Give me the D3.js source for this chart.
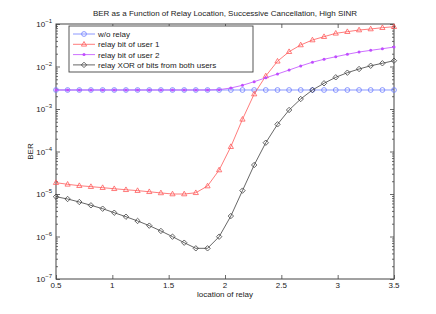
<!DOCTYPE html>
<html>
<head>
<meta charset="utf-8">
<script src="https://cdn.jsdelivr.net/npm/d3@7"></script>
<style>
  body { margin: 0; background: #fff; }
  text { font-family: "Liberation Sans", Arial, sans-serif; }
</style>
</head>
<body>
<div id="chart"></div>
<script>
// relay location, 30 evenly spaced samples between 0.5 and 3.5
var locations = [0.5, 0.603, 0.707, 0.810, 0.914, 1.017, 1.121, 1.224, 1.328, 1.431,
                 1.534, 1.638, 1.741, 1.845, 1.948, 2.052, 2.155, 2.259, 2.362, 2.466,
                 2.569, 2.672, 2.776, 2.879, 2.983, 3.086, 3.190, 3.293, 3.397, 3.5];

var berNoRelay = [2.8e-3, 2.8e-3, 2.8e-3, 2.8e-3, 2.8e-3, 2.8e-3, 2.8e-3, 2.8e-3, 2.8e-3, 2.8e-3,
                  2.8e-3, 2.8e-3, 2.8e-3, 2.8e-3, 2.8e-3, 2.8e-3, 2.8e-3, 2.8e-3, 2.8e-3, 2.8e-3,
                  2.8e-3, 2.8e-3, 2.8e-3, 2.8e-3, 2.8e-3, 2.8e-3, 2.8e-3, 2.8e-3, 2.8e-3, 2.8e-3];

var berUser1 = [1.85e-5, 1.69e-5, 1.57e-5, 1.49e-5, 1.41e-5, 1.33e-5, 1.26e-5, 1.20e-5, 1.13e-5, 1.06e-5,
                1.0e-5, 1.0e-5, 1.07e-5, 1.54e-5, 3.67e-5, 1.30e-4, 5.72e-4, 2.25e-3, 5.98e-3, 1.33e-2,
                2.23e-2, 3.21e-2, 4.20e-2, 5.03e-2, 6.04e-2, 6.59e-2, 7.22e-2, 7.63e-2, 8.19e-2, 8.64e-2];

var berUser2 = [2.8e-3, 2.8e-3, 2.8e-3, 2.8e-3, 2.8e-3, 2.8e-3, 2.8e-3, 2.8e-3, 2.8e-3, 2.8e-3,
                2.8e-3, 2.8e-3, 2.8e-3, 2.8e-3, 2.85e-3, 3.12e-3, 3.61e-3, 4.39e-3, 5.42e-3, 6.66e-3,
                8.27e-3, 1.03e-2, 1.26e-2, 1.48e-2, 1.70e-2, 1.94e-2, 2.19e-2, 2.40e-2, 2.62e-2, 2.87e-2];

var berXor = [8.63e-6, 7.63e-6, 6.48e-6, 5.42e-6, 4.51e-6, 3.63e-6, 2.92e-6, 2.32e-6, 1.80e-6, 1.35e-6,
              9.9e-7, 7.15e-7, 5.27e-7, 5.27e-7, 9.9e-7, 3.03e-6, 1.20e-5, 4.81e-5, 1.61e-4, 4.36e-4,
              9.47e-4, 1.72e-3, 2.80e-3, 4.03e-3, 5.57e-3, 7.15e-3, 8.73e-3, 1.04e-2, 1.19e-2, 1.37e-2];

var seriesNames = ["w/o relay", "relay bit of user 1", "relay bit of user 2", "relay XOR of bits from both users"];
var xTicks = [0.5, 1, 1.5, 2, 2.5, 3, 3.5];
var yExponents = [-7, -6, -5, -4, -3, -2, -1];

var series = [
  {name: seriesNames[0], values: berNoRelay, color: "#6f7fff", marker: "circle"},
  {name: seriesNames[1], values: berUser1, color: "#ff5a5a", marker: "triangle"},
  {name: seriesNames[2], values: berUser2, color: "#c04dff", marker: "star"},
  {name: seriesNames[3], values: berXor, color: "#404040", marker: "diamond"}
];

// set the dimensions and margins of the graph
var margin = {top: 24, right: 42, bottom: 35, left: 56},
    width = 436 - margin.left - margin.right,
    height = 314 - margin.top - margin.bottom;

var x = d3.scaleLinear().domain([0.5, 3.5]).range([0, width]);
var y = d3.scaleLog().domain([1e-7, 1e-1]).range([height, 0]);

var svg = d3.select("#chart").append("svg")
    .attr("width", 436)
    .attr("height", 314);

var g = svg.append("g")
    .attr("transform", "translate(" + margin.left + "," + margin.top + ")");

var axisColor = "#444";

// minor ticks of the log axis (2..9 in every decade)
var minor = [];
yExponents.slice(0, -1).forEach(function(e) {
  for (var k = 2; k <= 9; k++) minor.push(k * Math.pow(10, e));
});

// left / right axes, ticks pointing inward
function yAxis(side) {
  var a = (side === "left" ? d3.axisLeft(y) : d3.axisRight(y));
  return a.tickValues(yExponents.map(function(e) { return Math.pow(10, e); }))
    .tickSize(-4).tickFormat("");
}
function yMinor(side) {
  var a = (side === "left" ? d3.axisLeft(y) : d3.axisRight(y));
  return a.tickValues(minor).tickSize(-2).tickFormat("");
}
function xAxis(side) {
  var a = (side === "bottom" ? d3.axisBottom(x) : d3.axisTop(x));
  return a.tickValues(xTicks).tickSize(-4).tickFormat("");
}

g.append("g").attr("class", "ax").call(yAxis("left"));
g.append("g").attr("class", "ax").call(yMinor("left"));
g.append("g").attr("class", "ax").attr("transform", "translate(" + width + ",0)").call(yAxis("right"));
g.append("g").attr("class", "ax").attr("transform", "translate(" + width + ",0)").call(yMinor("right"));
g.append("g").attr("class", "ax").attr("transform", "translate(0," + height + ")").call(xAxis("bottom"));
g.append("g").attr("class", "ax").call(xAxis("top"));

g.selectAll(".ax path").remove();
g.selectAll(".ax line").attr("stroke", axisColor).attr("stroke-width", 0.8);

// frame
g.append("rect")
    .attr("width", width).attr("height", height)
    .attr("fill", "none").attr("stroke", axisColor).attr("stroke-width", 1);

// x tick labels
g.selectAll(".xlab")
  .data(xTicks).enter().append("text")
    .attr("x", function(d) { return x(d); })
    .attr("y", height + 9)
    .attr("text-anchor", "middle")
    .attr("font-size", 8).attr("fill", "#222")
    .text(function(d) { return d; });

// y tick labels with superscript exponents
var ylab = g.selectAll(".ylab")
  .data(yExponents).enter().append("text")
    .attr("x", -4)
    .attr("y", function(e) { return y(Math.pow(10, e)) + 3; })
    .attr("text-anchor", "end")
    .attr("font-size", 8).attr("fill", "#222");
ylab.append("tspan").text("10");
ylab.append("tspan").attr("dy", -4).attr("font-size", 6).text(function(e) { return "\u2212" + (-e); });

// axis titles
g.append("text")
    .attr("x", width / 2).attr("y", height + 18)
    .attr("text-anchor", "middle").attr("font-size", 8).attr("fill", "#222")
    .text("location of relay");

g.append("text")
    .attr("transform", "translate(-23," + (height / 2) + ") rotate(-90)")
    .attr("text-anchor", "middle").attr("font-size", 8).attr("fill", "#222")
    .text("BER");

g.append("text")
    .attr("x", width / 2).attr("y", -8)
    .attr("text-anchor", "middle").attr("font-size", 8).attr("fill", "#222")
    .text("BER as a Function of Relay Location, Successive Cancellation, High SINR");

// markers
function drawMarker(sel, type, color) {
  if (type === "circle") {
    sel.append("circle").attr("r", 2.4).attr("fill", "none").attr("stroke", color).attr("stroke-width", 0.8);
  } else if (type === "triangle") {
    sel.append("path").attr("d", "M0,-2.8L2.6,1.8L-2.6,1.8Z").attr("fill", "none").attr("stroke", color).attr("stroke-width", 0.8);
  } else if (type === "star") {
    sel.append("circle").attr("r", 1.5).attr("fill", color);
  } else {
    sel.append("path").attr("d", "M0,-2.7L2.7,0L0,2.7L-2.7,0Z").attr("fill", "none").attr("stroke", color).attr("stroke-width", 0.8);
  }
}

var line = d3.line()
    .x(function(d, i) { return x(locations[i]); })
    .y(function(d) { return y(d); });

series.forEach(function(s) {
  g.append("path")
      .datum(s.values)
      .attr("fill", "none")
      .attr("stroke", s.color)
      .attr("stroke-width", 0.8)
      .attr("d", line);

  g.selectAll(null)
    .data(s.values).enter().append("g")
      .attr("transform", function(d, i) { return "translate(" + x(locations[i]) + "," + y(d) + ")"; })
      .each(function() { drawMarker(d3.select(this), s.marker, s.color); });
});

// legend
var legend = g.append("g").attr("transform", "translate(13,2)");
legend.append("rect")
    .attr("width", 184).attr("height", 46)
    .attr("fill", "#fff").attr("stroke", axisColor).attr("stroke-width", 0.9);

series.forEach(function(s, i) {
  var row = legend.append("g").attr("transform", "translate(0," + (8 + i * 10.3) + ")");
  row.append("line").attr("x1", 4).attr("x2", 26).attr("stroke", s.color).attr("stroke-width", 0.8);
  drawMarker(row.append("g").attr("transform", "translate(15,0)"), s.marker, s.color);
  row.append("text").attr("x", 29).attr("y", 3).attr("font-size", 8).attr("fill", "#222").text(s.name);
});
</script>
</body>
</html>
